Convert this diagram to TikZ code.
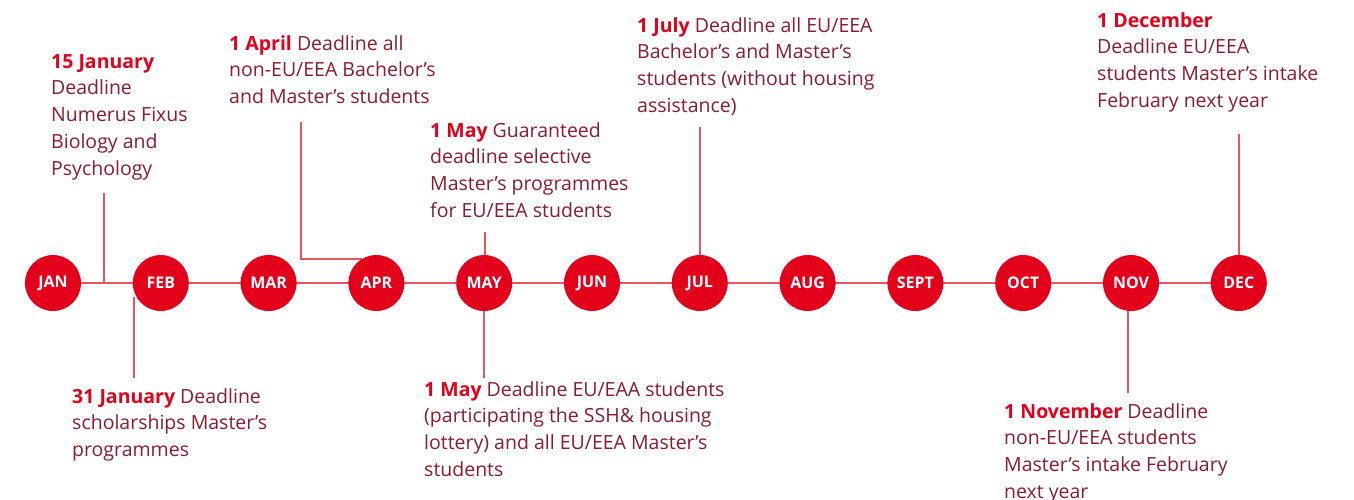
\documentclass[tikz,border=0pt]{standalone}
\usepackage{fontspec}
\setmainfont{Open Sans}
\usetikzlibrary{backgrounds}
\definecolor{mred}{HTML}{E2001A}
\definecolor{txt}{HTML}{8A1C2E}
\definecolor{lred}{HTML}{E9555E}
\tikzset{
  month/.style={circle, fill=mred, minimum size=56pt, inner sep=0pt, text=white, font=\fontsize{16}{16}\selectfont\bfseries},
  lbl/.style={inner sep=0pt, align=left, text=txt, font=\fontsize{19.5}{26.8}\selectfont},
  conn/.style={draw=lred, line width=2pt},
}
\newcommand{\dd}[1]{\textbf{\color{mred}#1}}
\begin{document}
\begin{tikzpicture}[x=1pt,y=-1pt]
\useasboundingbox (0,0) rectangle (1354,499);
% months
\foreach \m [count=\i from 0] in {JAN,FEB,MAR,APR,MAY,JUN,JUL,AUG,SEPT,OCT,NOV,DEC}
  \node[month] (\m) at ({53+107.8*\i},283) {\m};
% labels (anchored at the baseline of the last line)
\node[lbl, anchor=base west] (t15jan) at (51,175.2) {\dd{15 January}\\Deadline\\Numerus Fixus\\Biology and\\Psychology};
\node[lbl, anchor=base west] (t1apr) at (229,103.6) {\dd{1 April} Deadline all\\non-EU/EEA Bachelor’s\\and Master’s students};
\node[lbl, anchor=base west] (t1may) at (430,217.4) {\dd{1 May} Guaranteed\\deadline selective\\Master’s programmes\\for EU/EEA students};
\node[lbl, anchor=base west] (t1jul) at (637,112.4) {\dd{1 July} Deadline all EU/EEA\\Bachelor’s and Master’s\\students (without housing\\assistance)};
\node[lbl, anchor=base west] (t1dec) at (1097,107.4) {\dd{1 December}\\Deadline EU/EEA\\students Master’s intake\\February next year};
\node[lbl, anchor=base west] (t31jan) at (72,456.6) {\dd{31 January} Deadline\\scholarships Master’s\\programmes};
\node[lbl, anchor=base west] (t1mayb) at (424,476.4) {\dd{1 May} Deadline EU/EAA students\\(participating the SSH\& housing\\lottery) and all EU/EEA Master’s\\students};
\node[lbl, anchor=base west] (t1nov) at (1004,498.4) {\dd{1 November} Deadline\\non-EU/EEA students\\Master’s intake February\\next year};
% connector end points
\coordinate (c15jan) at (103.5,193);
\coordinate (c31jan) at (133.5,378);
\coordinate (c1apr) at (301,122);
\coordinate (c1may) at (485,232);
\coordinate (c1mayb) at (484,378);
\coordinate (c1jul) at (700,127);
\coordinate (c1nov) at (1128,393);
\coordinate (c1dec) at (1239,134);
\begin{scope}[on background layer]
\draw[conn] (JAN.center) -- (DEC.center);
\draw[conn] (c15jan) -- (c15jan |- JAN.center);
\draw[conn] (c31jan) -- (c31jan |- 0,297);
\draw[conn] (c1apr) |- (APR.121);
\draw[conn] (c1may) -- (c1may |- MAY.center);
\draw[conn] (c1mayb) -- (c1mayb |- MAY.center);
\draw[conn] (c1jul) -- (c1jul |- JUL.center);
\draw[conn] (c1nov) -- (c1nov |- NOV.center);
\draw[conn] (c1dec) -- (c1dec |- DEC.center);
\end{scope}
\end{tikzpicture}
\end{document}
